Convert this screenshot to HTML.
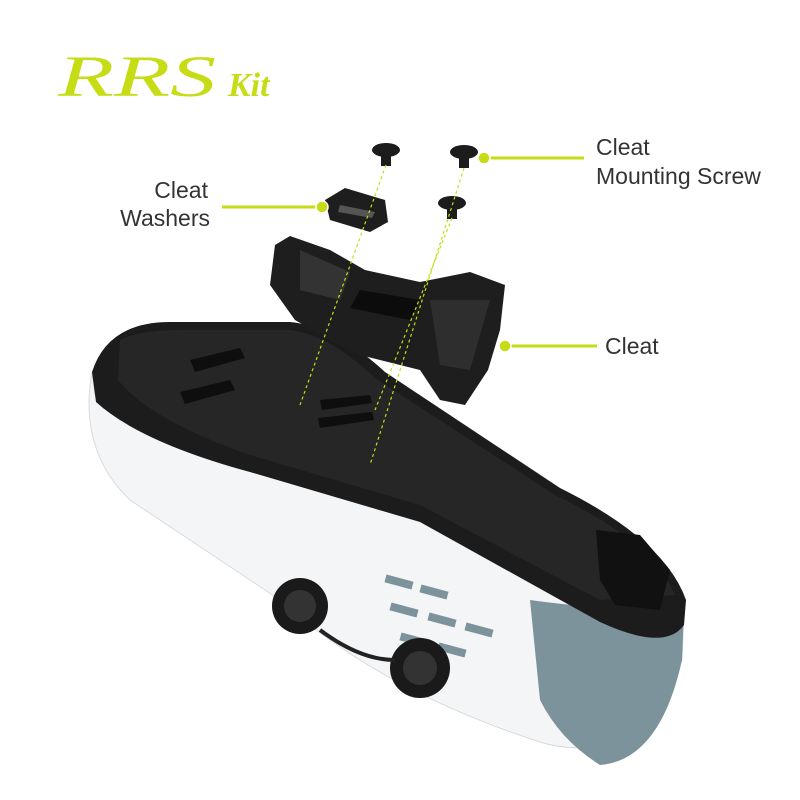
<!DOCTYPE html>
<html><head><meta charset="utf-8"><style>
html,body{margin:0;padding:0;background:#fff;}
svg{display:block}
</style></head><body>
<svg width="800" height="800" viewBox="0 0 800 800" xmlns="http://www.w3.org/2000/svg">
<rect width="800" height="800" fill="#fff"/>
<!-- logo -->
<text x="58" y="96" font-family="Liberation Serif, serif" font-style="italic" font-size="58" fill="#c6dc14" letter-spacing="0" textLength="158" lengthAdjust="spacingAndGlyphs">RRS</text>
<text x="228" y="96" font-family="Liberation Serif, serif" font-style="italic" font-weight="bold" font-size="34" fill="#c6dc14">Kit</text>

<!-- white upper -->
<path d="M92,372 Q78,450 130,500 L280,600 Q380,690 540,742 Q630,770 682,660 L684,610 Q660,650 600,622 L420,520 L250,470 Q140,440 95,395 Z" fill="#f4f5f6" stroke="#d8dadc" stroke-width="1"/>
<!-- toe grey-blue -->
<path d="M530,600 Q600,610 684,610 L682,660 Q660,760 600,765 Q560,740 540,700 Z" fill="#7d939c"/>
<!-- blue dashes -->
<g fill="#7d939c">
<rect x="385" y="578" width="28" height="8" transform="rotate(15 399 582)"/>
<rect x="420" y="588" width="28" height="8" transform="rotate(15 434 592)"/>
<rect x="390" y="606" width="28" height="8" transform="rotate(15 404 610)"/>
<rect x="428" y="616" width="28" height="8" transform="rotate(15 442 620)"/>
<rect x="465" y="626" width="28" height="8" transform="rotate(15 479 630)"/>
<rect x="400" y="636" width="28" height="8" transform="rotate(15 414 640)"/>
<rect x="438" y="646" width="28" height="8" transform="rotate(15 452 650)"/>
</g>
<!-- black sole -->
<path d="M92,372 Q108,322 170,322 L290,322 Q335,326 385,372 L560,488 Q665,540 686,600 L684,625 Q665,652 600,622 L420,522 L250,472 Q140,442 96,402 Z" fill="#1c1c1c"/>
<path d="M120,340 Q140,330 180,330 L290,330 Q330,335 375,378 L555,495 Q650,540 675,595 L600,600 L420,505 L250,455 Q150,420 118,380 Z" fill="#262626"/>
<!-- sole vents -->
<g fill="#0e0e0e">
<path d="M190,360 L240,348 L245,358 L195,372 Z"/>
<path d="M180,392 L230,380 L235,390 L185,404 Z"/>
<path d="M320,400 L370,395 L372,403 L322,410 Z"/>
<path d="M318,418 L372,412 L374,420 L320,428 Z"/>
</g>
<!-- heel pad -->
<path d="M596,530 L640,535 L670,570 L660,610 L615,605 L600,580 Z" fill="#111"/>
<!-- dials -->
<circle cx="300" cy="606" r="28" fill="#1a1a1a"/><circle cx="300" cy="606" r="16" fill="#333"/>
<circle cx="420" cy="668" r="30" fill="#1a1a1a"/><circle cx="420" cy="668" r="17" fill="#333"/>
<path d="M320,630 Q360,660 395,660" stroke="#222" stroke-width="4" fill="none"/>

<!-- cleat -->
<path d="M275,245 L290,236 L330,250 L365,270 L420,282 L470,272 L505,285 L500,330 L488,370 L465,405 L440,400 L420,370 L360,355 L330,340 L295,320 L270,285 Z" fill="#1e1e1e"/>
<path d="M300,250 L350,272 L340,300 L300,290 Z" fill="#333"/>
<path d="M360,290 L420,300 L410,320 L350,308 Z" fill="#0c0c0c"/>
<path d="M430,300 L490,300 L470,370 L440,365 Z" fill="#2e2e2e"/>

<!-- washer -->
<path d="M325,200 L345,188 L385,200 L388,222 L370,232 L330,220 Z" fill="#1e1e1e"/>
<path d="M340,205 L375,212 L372,218 L338,212 Z" fill="#555"/>
<!-- screws -->
<g fill="#1c1c1c">
<ellipse cx="386" cy="150" rx="14" ry="7"/><rect x="381" y="150" width="10" height="16"/>
<ellipse cx="464" cy="152" rx="14" ry="7"/><rect x="459" y="152" width="10" height="16"/>
<ellipse cx="452" cy="203" rx="14" ry="7"/><rect x="447" y="203" width="10" height="16"/>
</g>
<!-- dashed guides -->
<g stroke="#c6dc14" stroke-width="1.2" stroke-dasharray="3,3" fill="none">
<line x1="386" y1="165" x2="300" y2="405"/>
<line x1="464" y1="168" x2="370" y2="465"/>
<line x1="452" y1="218" x2="375" y2="410"/>
</g>

<!-- callouts -->
<g stroke="#c6dc14" stroke-width="3" fill="none">
<line x1="484" y1="158" x2="584" y2="158"/>
<line x1="222" y1="207" x2="322" y2="207"/>
<line x1="505" y1="346" x2="597" y2="346"/>
</g>
<g fill="#c6dc14" stroke="#fff" stroke-width="1.5">
<circle cx="484" cy="158" r="6"/>
<circle cx="322" cy="207" r="6"/>
<circle cx="505" cy="346" r="6"/>
</g>
<g font-family="Liberation Sans, sans-serif" font-size="23" fill="#333">
<text x="596" y="155">Cleat</text>
<text x="596" y="184">Mounting Screw</text>
<text x="208" y="198" text-anchor="end">Cleat</text>
<text x="210" y="226" text-anchor="end">Washers</text>
<text x="605" y="354">Cleat</text>
</g>
</svg>
</body></html>
